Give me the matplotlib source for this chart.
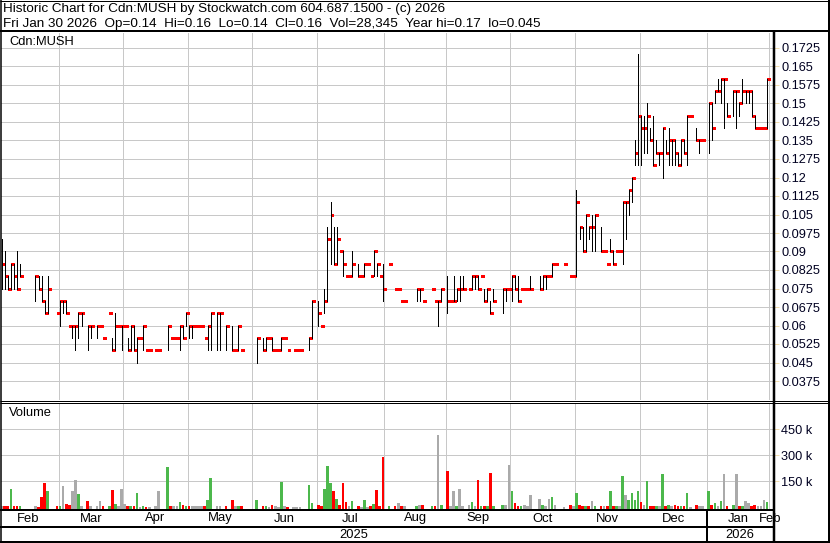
import matplotlib
matplotlib.use("Agg")
import matplotlib.pyplot as plt
from matplotlib.lines import Line2D
from matplotlib.transforms import blended_transform_factory
import numpy as np

plt.rcParams['font.family'] = ['Liberation Sans', 'DejaVu Sans']

# ---------------- data (trading-day index, high, low, close, volume in thousands) ----------------
day = [2, 3, 4, 5, 6, 7, 8, 13, 14, 15, 16, 17,
       20, 21, 22, 23, 24, 25, 26, 27, 28, 30, 31, 33, 34, 35, 37, 38, 39, 40, 41,
       42, 43, 44, 45, 46, 47, 48, 49, 50, 52, 53, 56, 57, 58, 59, 60, 61, 62,
       63, 64, 65, 66, 67, 68, 69, 70, 72, 73, 75, 77, 78, 79, 80,
       85, 87, 88, 89, 90, 91, 92, 93, 94, 95, 97, 98, 99, 102, 103,
       105, 106, 107, 108, 109, 110, 111, 112, 113, 114, 115, 116, 118, 119, 120, 121, 122, 123, 124, 125, 126,
       128, 130, 131, 132, 133, 137, 138, 139, 142, 143, 144, 145,
       147, 148, 149, 150, 151, 152, 154, 155, 156, 157, 158, 159, 160, 161, 162, 165, 166, 167,
       168, 169, 170, 171, 172, 173, 174, 177, 178, 179, 180, 181, 182, 185, 187, 188,
       189, 190, 191, 192, 193, 194, 195, 197, 198, 199, 200, 201, 202, 203, 204, 205, 206, 207, 208, 209,
       210, 211, 212, 213, 214, 215, 216, 217, 218, 219, 220, 221, 222, 223, 224, 225, 226, 228, 229, 230,
       232, 233, 234, 235, 236, 237, 238, 240, 241, 242, 243, 244, 245, 246, 247, 248, 249, 250, 251]

high = [.095, .09, .08, .085, .085, .09, .085, .08, .08, .08, .07, .08,
        .065, .07, .07, .07, .06, .06, .06, .065, .065, .06, .06, .06, .06, .055, .065, .055, .065, .06, .06,
        .06, .055, .06, .06, .055, .055, .06, .05, .05, .05, .05, .06, .055, .055, .055, .06, .06, .065,
        .06, .06, .06, .06, .06, .055, .06, .065, .065, .065, .06, .06, .05, .06, .05,
        .055, .055, .055, .055, .055, .05, .05, .055, .055, .05, .05, .05, .05, .055, .07,
        .07, .06, .075, .10, .11, .10, .10, .09, .09, .08, .08, .09, .085, .08, .085, .085, .08, .09, .085, .08, .085,
        .085, .075, .075, .07, .07, .075, .075, .07, .075, .07, .07, .075,
        .08, .07, .08, .075, .08, .08, .075, .08, .08, .08, .08, .075, .075, .07, .075, .075, .075, .075,
        .08, .08, .08, .075, .075, .075, .08, .08, .08, .08, .08, .085, .085, .085, .08, .08,
        .115, .10, .10, .105, .10, .105, .105, .10, .09, .085, .095, .09, .09, .09, .11, .11, .115, .12, .135, .17,
        .145, .145, .15, .14, .145, .135, .13, .14, .135, .14, .135, .135, .13, .135, .135, .145, .145, .14, .135, .135,
        .15, .15, .155, .16, .16, .16, .15, .155, .155, .15, .16, .155, .155, .155, .145, .14, .14, .14, .16]

low = [.075, .075, .075, .075, .075, .075, .08, .07, .075, .07, .065, .065,
       .065, .06, .065, .065, .06, .055, .05, .055, .06, .05, .055, .055, .06, .055, .065, .05, .05, .06, .05,
       .06, .05, .05, .05, .045, .055, .05, .05, .05, .05, .05, .05, .055, .055, .055, .05, .055, .06,
       .055, .055, .06, .06, .06, .055, .05, .05, .05, .05, .05, .05, .05, .05, .05,
       .045, .05, .05, .055, .05, .05, .05, .05, .055, .05, .05, .05, .05, .05, .055,
       .06, .06, .065, .07, .085, .085, .085, .09, .08, .08, .08, .08, .08, .08, .08, .085, .08, .08, .08, .08, .07,
       .085, .075, .075, .07, .07, .07, .07, .07, .075, .07, .06, .07,
       .065, .07, .07, .07, .07, .075, .075, .075, .075, .075, .08, .07, .07, .065, .07, .065, .07, .075,
       .07, .075, .07, .075, .075, .075, .075, .075, .075, .075, .08, .08, .085, .085, .08, .08,
       .08, .095, .09, .09, .095, .09, .09, .09, .09, .085, .09, .085, .09, .09, .085, .095, .105, .11, .125, .125,
       .125, .13, .13, .135, .125, .13, .125, .12, .13, .125, .125, .125, .125, .125, .13, .125, .145, .135, .13, .135,
       .13, .135, .15, .155, .15, .14, .145, .145, .14, .145, .15, .15, .15, .145, .14, .14, .14, .14, .14]

close = [.085, .08, .075, .085, .08, .075, .08, .08, .075, .07, .065, .075,
         .065, .07, .07, .065, .06, .06, .06, .065, .065, .06, .06, .06, .06, .055, .065, .05, .06, .06, .06,
         .06, .05, .06, .05, .055, .055, .06, .05, .05, .05, .05, .06, .055, .055, .055, .06, .055, .065,
         .06, .06, .06, .06, .06, .055, .06, .065, .065, .065, .06, .05, .05, .06, .05,
         .055, .05, .055, .055, .05, .05, .05, .055, .055, .05, .05, .05, .05, .055, .07,
         .065, .06, .07, .095, .105, .085, .095, .09, .085, .08, .08, .085, .08, .08, .085, .085, .08, .09, .085, .08, .075,
         .085, .075, .075, .07, .07, .075, .075, .07, .075, .07, .07, .075,
         .07, .07, .07, .075, .075, .075, .075, .08, .08, .075, .08, .07, .075, .065, .07, .075, .075, .075,
         .08, .075, .07, .075, .075, .075, .075, .075, .08, .08, .08, .085, .085, .085, .08, .08,
         .11, .10, .09, .105, .10, .10, .105, .09, .09, .085, .09, .085, .09, .09, .11, .11, .115, .12, .13, .145,
         .14, .14, .145, .135, .125, .13, .13, .14, .13, .135, .135, .13, .125, .135, .13, .145, .145, .135, .135, .135,
         .15, .14, .155, .155, .16, .16, .145, .155, .155, .15, .155, .155, .155, .145, .14, .14, .14, .14, .16]

volume_k = [5, 8, 3, 105, 6, 4, 3, 6, 2, 58, 140, 94,
            5, 5, 122, 19, 12, 94, 155, 75, 5, 36, 5, 3, 36, 3, 5, 98, 15, 3, 103,
            15, 5, 5, 3, 80, 2, 3, 2, 2, 5, 90, 231, 8, 3, 3, 28, 12, 5,
            8, 3, 3, 3, 3, 3, 43, 170, 5, 8, 8, 43, 3, 8, 3,
            43, 5, 5, 2, 12, 3, 2, 147, 3, 2, 2, 2, 2, 126, 24,
            12, 3, 105, 236, 138, 92, 45, 14, 138, 28, 5, 36, 5, 2, 43, 2, 3, 15, 98, 3, 286,
            3, 5, 24, 3, 5, 5, 10, 12, 3, 8, 416, 10,
            208, 3, 92, 5, 103, 8, 10, 28, 5, 154, 5, 5, 5, 196, 5, 10, 10, 242,
            95, 24, 3, 8, 10, 5, 70, 44, 10, 5, 45, 56, 10, 2, 10, 5,
            80, 10, 5, 3, 3, 33, 5, 5, 3, 3, 92, 5, 5, 3, 180, 70, 43, 80, 43, 95,
            28, 10, 150, 5, 8, 3, 8, 192, 3, 10, 8, 10, 3, 8, 3, 80, 2, 10, 5, 6,
            95, 10, 24, 5, 36, 192, 8, 10, 192, 3, 5, 36, 24, 5, 10, 5, 3, 43, 28]

month_labels = ['Feb', 'Mar', 'Apr', 'May', 'Jun', 'Jul', 'Aug', 'Sep', 'Oct', 'Nov', 'Dec', 'Jan', 'Feb']
month_start = [1, 21, 42, 63, 84, 105, 127, 147, 168, 189, 210, 232, 252]
year_labels = ['2025', '2026']
price_labels = ['0.1725', '0.165', '0.1575', '0.15', '0.1425', '0.135', '0.1275', '0.12', '0.1125',
                '0.105', '0.0975', '0.09', '0.0825', '0.075', '0.0675', '0.06', '0.0525', '0.045', '0.0375']
vol_ticks_k = [150, 300, 450]
vol_labels = ['150 k', '300 k', '450 k']
title1 = "Historic Chart for Cdn:MUSH by Stockwatch.com 604.687.1500 - (c) 2026"
title2 = "Fri Jan 30 2026  Op=0.14  Hi=0.16  Lo=0.14  Cl=0.16  Vol=28,345  Year hi=0.17  lo=0.045"

# ---------------- layout ----------------
W, H, DPI = 830, 543, 100
X0, DX = -4.5, 3.074          # pixel of trading day 0, pixels per trading day
PT = 72.0 / DPI               # points per pixel

fig = plt.figure(figsize=(W / DPI, H / DPI), dpi=DPI)
fig.patch.set_facecolor('white')


def fx(px):
    return px / W


def fy(py):
    return 1 - py / H


def rect(x0, y0, x1, y1):
    return [fx(x0), fy(y1), (x1 - x0) / W, (y1 - y0) / H]


ax = fig.add_axes(rect(1, 33, 773, 400))
axv = fig.add_axes(rect(1, 403, 773, 509))

xlim = ((1 - X0) / DX, (773 - X0) / DX)
boundaries = [m - 0.5 for m in month_start[1:]]

d = np.array(day, dtype=float)
hi = np.array(high)
lo = np.array(low)
cl = np.array(close)
vol = np.array(volume_k, dtype=float)

# price scale: 0.1725 at y=48px, 18.5 px per 0.0075
ppx = 0.0075 / 18.5
ax.set_ylim(0.1725 - (400 - 48) * ppx, 0.1725 + (48 - 33) * ppx)
ax.set_xlim(*xlim)

grid_c = '#c8c8c8'
for a in (ax, axv):
    for s in a.spines.values():
        s.set_visible(False)
    a.set_xticks(boundaries)
    a.tick_params(axis='x', length=0, labelbottom=False)
    a.grid(True, color=grid_c, lw=1.0 * PT)
    a.set_axisbelow(True)
    a.set_facecolor('white')

tick_vals = [float(s) for s in price_labels]
ax.yaxis.tick_right()
ax.set_yticks(tick_vals)
ax.set_yticklabels(price_labels)
ax.tick_params(axis='y', length=6 * PT, width=1 * PT, color='#f0dcae', pad=2.0 * PT,
               labelsize=9.2, labelcolor='#000020')

# bars: close tick (red) and high-low range (black)
ax.hlines(cl, d, d + 0.95, colors='red', lw=2.6 * PT, capstyle='butt', zorder=3, antialiased=False)
rng = hi > lo
ax.vlines(d[rng], lo[rng], hi[rng], colors='black', lw=1.0 * PT, capstyle='butt', zorder=4,
          antialiased=False)

# volume
colors = []
for k in range(len(cl)):
    if k == 0 or cl[k] == cl[k - 1]:
        colors.append('#aaaaaa')
    elif cl[k] > cl[k - 1]:
        colors.append('#4cb84c')
    else:
        colors.append('#ff0000')
vb = 11.5
axv.set_xlim(*xlim)
axv.set_ylim(-vb, 600)
axv.bar(d, vol + vb, bottom=-vb, width=0.85, color=colors, linewidth=0, zorder=3, antialiased=False)
axv.yaxis.tick_right()
axv.set_yticks(vol_ticks_k)
axv.set_yticklabels(vol_labels)
axv.tick_params(axis='y', length=6 * PT, width=1 * PT, color='#f0dcae', pad=2.0 * PT,
                labelsize=9.2, labelcolor='#000020')

# texts
fig.text(fx(3), fy(9), title1, fontsize=9.7, va='center', ha='left')
fig.text(fx(3), fy(23.5), title2, fontsize=9.7, va='center', ha='left')
fig.text(fx(9), fy(42), 'Cdn:MUSH', fontsize=9.3, va='center', ha='left')
fig.text(fx(9), fy(413), 'Volume', fontsize=9.3, va='center', ha='left')

tr = blended_transform_factory(axv.transData, fig.transFigure)
edges = [xlim[0] - 1.3] + boundaries
for k, lab in enumerate(month_labels):
    if k < len(month_labels) - 1:
        c = (edges[k] + edges[k + 1]) / 2
    else:
        c = boundaries[-1] + 0.5
    axv.text(c, fy(518.5), lab, transform=tr, ha='center', va='center', fontsize=9.4, clip_on=False)
jan_b = boundaries[-2]
axv.text((xlim[0] + jan_b) / 2, fy(535), year_labels[0], transform=tr, ha='center', va='center',
         fontsize=9.3, clip_on=False)
axv.text((jan_b + xlim[1]) / 2, fy(535), year_labels[1], transform=tr, ha='center', va='center',
         fontsize=9.3, clip_on=False)


# frame lines
def hline(y, x0, x1, w):
    fig.add_artist(Line2D([fx(x0), fx(x1)], [fy(y), fy(y)], lw=w * PT, color='black',
                          solid_capstyle='butt'))


def vline(x, y0, y1, w):
    fig.add_artist(Line2D([fx(x), fx(x)], [fy(y0), fy(y1)], lw=w * PT, color='black',
                          solid_capstyle='butt'))


hline(0.5, 0, W, 1)
hline(542, 0, W, 2)
vline(0.75, 0, H, 1.5)
vline(829, 0, H, 2)
hline(31, 0, W, 2)
vline(774.3, 31, H, 2.5)
hline(400.8, 0, W, 1)
hline(402.8, 0, W, 1)
hline(509.8, 0, 774, 2)
hline(526.5, 0, 774, 2)
jan_px = X0 + DX * jan_b
vline(jan_px, 510, H, 2)

fig.savefig('out.png', dpi=DPI, facecolor='white')
